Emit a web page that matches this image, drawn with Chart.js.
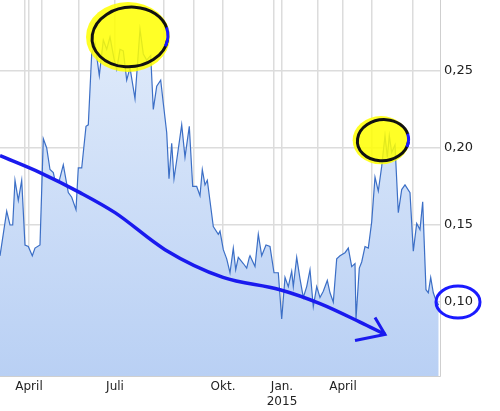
<!DOCTYPE html>
<html><head><meta charset="utf-8">
<script src="https://cdn.jsdelivr.net/npm/chart.js@4/dist/chart.umd.min.js"></script>
<style>html,body{margin:0;padding:0;background:#fff}#c{display:block}</style>
</head><body><canvas id="c" width="500" height="411"></canvas>
<script>
const xPos=[0,6.7,10,12.7,15,18.3,21.7,25,28.3,32.3,35,40,43.3,46.7,50,53.3,55,59.3,63.3,68.3,71.7,76,78.3,81.7,86,88.3,91.7,95,99.3,103.3,106.7,110,114,116.7,120,123.3,126.7,130,135,140,143.3,146.7,150.7,153.3,156.7,160.7,163.3,166.7,169,171.7,174,176.7,181.7,185,189.3,192.7,196.7,200,202.3,205,207.3,213.3,218.3,220,223.3,226.7,230,233.3,235.7,238.3,243.3,246.7,249.3,250,255,258.3,261.7,266,270,274,278.3,281.7,285,288.3,291.7,293.3,296.7,300,303.3,306.7,310,313.3,316.7,320,323.3,327.3,330,333.3,336.7,340,345,348.3,351.7,355,356,359.3,361.7,365,368.3,371.7,375,378.3,381.7,385,387.3,389.3,391.7,395,398.3,401.7,405,410,413.3,416.7,420,422.7,426,428.3,430.7,433.3,436,438.7];
const prices=[0.130,0.159,0.150,0.150,0.179,0.166,0.179,0.137,0.136,0.130,0.135,0.137,0.206,0.200,0.186,0.184,0.179,0.179,0.189,0.171,0.168,0.160,0.187,0.187,0.214,0.215,0.261,0.268,0.247,0.270,0.264,0.272,0.258,0.251,0.264,0.263,0.244,0.252,0.232,0.277,0.261,0.257,0.260,0.225,0.240,0.244,0.229,0.210,0.180,0.203,0.180,0.192,0.215,0.194,0.214,0.175,0.175,0.169,0.186,0.176,0.179,0.149,0.144,0.146,0.134,0.128,0.119,0.135,0.121,0.129,0.125,0.122,0.129,0.130,0.123,0.144,0.130,0.137,0.136,0.119,0.119,0.089,0.116,0.110,0.120,0.110,0.129,0.115,0.103,0.110,0.121,0.097,0.110,0.103,0.107,0.114,0.106,0.100,0.128,0.130,0.132,0.135,0.123,0.125,0.089,0.122,0.126,0.136,0.135,0.152,0.181,0.172,0.188,0.208,0.194,0.208,0.197,0.202,0.158,0.173,0.176,0.171,0.133,0.151,0.147,0.165,0.108,0.106,0.116,0.106,0.101,0.098];
const trendX=[0,40,80,115,165,223,280,320,360,385];
const trendV=[0.195,0.184,0.171,0.158,0.134,0.116,0.108,0.099,0.087,0.079];
const arrowX=[375,385,355];
const arrowV=[0.090,0.079,0.075];
const gridX=[25,29,42,79,115,164,194,223,274,282,318,343,372,413];
const tickLabels={29:'April',115:'Juli',223:'Okt.',282:['Jan.','2015'],343:'April'};
const yTicks=[0.10,0.15,0.20,0.25];
const blobs=[{x:130,v:0.272,rx:40,ry:0.021},{x:383,v:0.205,rx:27,ry:0.0145}];
const ringX=458, ringV=0.10;

const annot={id:'annot',
 afterDatasetsDraw(ch){
  const c=ch.ctx,xs=ch.scales.x,ys=ch.scales.y;
  c.save();
  blobs.forEach((b)=>{
    const cx=xs.getPixelForValue(b.x),cy=ys.getPixelForValue(b.v);
    const rx=xs.getPixelForValue(b.x+b.rx)-cx, ry=cy-ys.getPixelForValue(b.v+b.ry);
    c.globalAlpha=0.85;c.fillStyle='#ffff00';
    c.beginPath();c.ellipse(cx-2,cy,rx*1.05,ry*1.08,0,0,Math.PI*2);c.fill();
    c.globalAlpha=1;
    c.lineWidth=3;c.strokeStyle='#111';
    c.beginPath();c.ellipse(cx,cy,rx*0.95,ry*0.92,-0.1,0.2,Math.PI*1.95);c.stroke();
    c.strokeStyle='#1a1aff';
    c.beginPath();c.ellipse(cx,cy,rx*0.95,ry*0.92,-0.1,-0.2,0.45);c.stroke();
  });
  const rx0=xs.getPixelForValue(ringX),ry0=ys.getPixelForValue(ringV);
  c.strokeStyle='#1a1aff';c.lineWidth=3;
  c.beginPath();c.ellipse(rx0,ry0,22,16,0,0,Math.PI*2);c.stroke();
  c.restore();
 }};

new Chart(document.getElementById('c'),{
 type:'line',
 data:{datasets:[
  {order:2,data:xPos.map((x,i)=>({x,y:prices[i]})),borderColor:'#3c6fc6',borderWidth:1.2,pointRadius:0,tension:0,
   fill:'start',backgroundColor:(ctx)=>{const a=ctx.chart.chartArea;if(!a)return '#cddff8';const g=ctx.chart.ctx.createLinearGradient(0,a.top,0,a.bottom);g.addColorStop(0,'#e3edfb');g.addColorStop(1,'#b9d0f4');return g;}},
  {order:0,data:trendX.map((x,i)=>({x,y:trendV[i]})),borderColor:'#1a1aee',borderWidth:3.5,pointRadius:0,cubicInterpolationMode:'monotone',fill:false},
  {order:0,data:arrowX.map((x,i)=>({x,y:arrowV[i]})),borderColor:'#1a1aee',borderWidth:3,pointRadius:0,tension:0,fill:false}
 ]},
 options:{responsive:false,animation:false,events:[],
  layout:{padding:0},
  plugins:{legend:{display:false},tooltip:{enabled:false}},
  scales:{
   x:{type:'linear',min:0,max:440,
    afterBuildTicks:(s)=>{s.ticks=gridX.map(v=>({value:v}));},
    afterFit:(s)=>{s.height=35;s.paddingLeft=0;s.paddingRight=0;},
    ticks:{autoSkip:false,maxRotation:0,color:'#222',font:{family:'DejaVu Sans',size:12},padding:4,
      callback:(v)=>tickLabels[v]||''},
    grid:{color:'#dcdcdc',drawTicks:false,lineWidth:1.5},
    border:{color:'#cfcfcf'}},
   y:{position:'right',min:0.052,max:0.296,
    afterBuildTicks:(s)=>{s.ticks=yTicks.map(v=>({value:v}));},
    afterFit:(s)=>{s.width=60;s.paddingTop=0;s.paddingBottom=0;},
    ticks:{color:'#222',font:{family:'DejaVu Sans',size:13},padding:4,
      callback:(v)=>v.toFixed(2).replace('.',',')},
    grid:{color:'#dcdcdc',drawTicks:false,lineWidth:1.5},
    border:{color:'#cfcfcf'}}
  }},
 plugins:[annot]
});
</script></body></html>
